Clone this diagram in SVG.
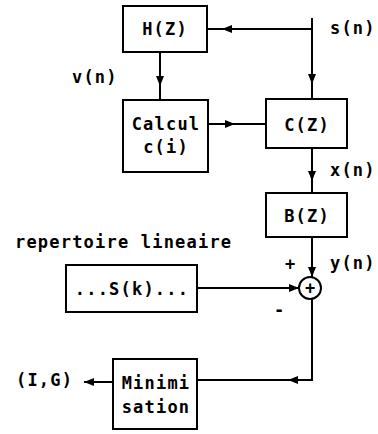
<svg xmlns="http://www.w3.org/2000/svg" width="378" height="434" viewBox="0 0 378 434">
<style>
.box{fill:#fff;stroke:#000;stroke-width:2}
.ln{fill:none;stroke:#000;stroke-width:2}
.t{font-family:"DejaVu Sans Mono","Liberation Mono",monospace;font-weight:bold;font-size:17px;letter-spacing:1.2px;fill:#000}
.c{text-anchor:middle}
</style>
<defs>
<marker id="ah" viewBox="0 0 10 8" refX="10" refY="4" markerWidth="10" markerHeight="8" markerUnits="userSpaceOnUse" orient="auto">
<path d="M0,0 L10,4 L0,8 Z" fill="#000"/>
</marker>
</defs>
<rect width="378" height="434" fill="#fff"/>
<g id="connectors">
<line class="ln" x1="312" y1="18" x2="312" y2="29"/>
<line class="ln" x1="312" y1="29" x2="222" y2="29" marker-end="url(#ah)"/>
<line class="ln" x1="222" y1="29" x2="207" y2="29"/>
<line class="ln" x1="312" y1="29" x2="312" y2="84" marker-end="url(#ah)"/>
<line class="ln" x1="312" y1="84" x2="312" y2="99"/>
<line class="ln" x1="160" y1="52" x2="160" y2="86" marker-end="url(#ah)"/>
<line class="ln" x1="160" y1="86" x2="160" y2="100"/>
<line class="ln" x1="208" y1="124" x2="235" y2="124" marker-end="url(#ah)"/>
<line class="ln" x1="235" y1="124" x2="266" y2="124"/>
<line class="ln" x1="312" y1="148" x2="312" y2="181" marker-end="url(#ah)"/>
<line class="ln" x1="312" y1="181" x2="312" y2="193"/>
<line class="ln" x1="312" y1="237" x2="312" y2="277" marker-end="url(#ah)"/>
<line class="ln" x1="197" y1="288" x2="299" y2="288" marker-end="url(#ah)"/>
<polyline class="ln" points="312,299 312,380 298,380"/>
<line class="ln" x1="298" y1="380" x2="288" y2="380" marker-end="url(#ah)"/>
<line class="ln" x1="288" y1="380" x2="197" y2="380"/>
<line class="ln" x1="113" y1="382" x2="84" y2="382" marker-end="url(#ah)"/>
</g>
<g id="hz"><rect class="box" x="123" y="6" width="84" height="46"/><text class="t c" x="165" y="35">H(Z)</text></g>
<g id="calcul"><rect class="box" x="123" y="100" width="85" height="72"/><text class="t c" x="166" y="130">Calcul</text><text class="t c" x="166" y="153">c(i)</text></g>
<g id="cz"><rect class="box" x="266" y="99" width="81" height="49"/><text class="t c" x="307" y="131">C(Z)</text></g>
<g id="bz"><rect class="box" x="266" y="193" width="81" height="44"/><text class="t c" x="307" y="222">B(Z)</text></g>
<g id="sk"><rect class="box" x="66" y="265" width="131" height="47"/><text class="t c" x="132" y="295">...S(k)...</text></g>
<g id="sum"><circle class="box" cx="310" cy="288" r="11"/><text class="t c" x="310" y="294" style="letter-spacing:0">+</text></g>
<g id="mini"><rect class="box" x="113" y="359" width="84" height="70"/><text class="t c" x="156" y="389">Minimi</text><text class="t c" x="156" y="413">sation</text></g>
<g id="labels">
<text class="t" x="330" y="34">s(n)</text>
<text class="t" x="72" y="83">v(n)</text>
<text class="t" x="330" y="176">x(n)</text>
<text class="t" x="330" y="269">y(n)</text>
<text class="t" x="285" y="270">+</text>
<text class="t" x="274" y="316">-</text>
<text class="t" x="16" y="386">(I,G)</text>
<text class="t" x="15" y="248">repertoire lineaire</text>
</g>
</svg>
